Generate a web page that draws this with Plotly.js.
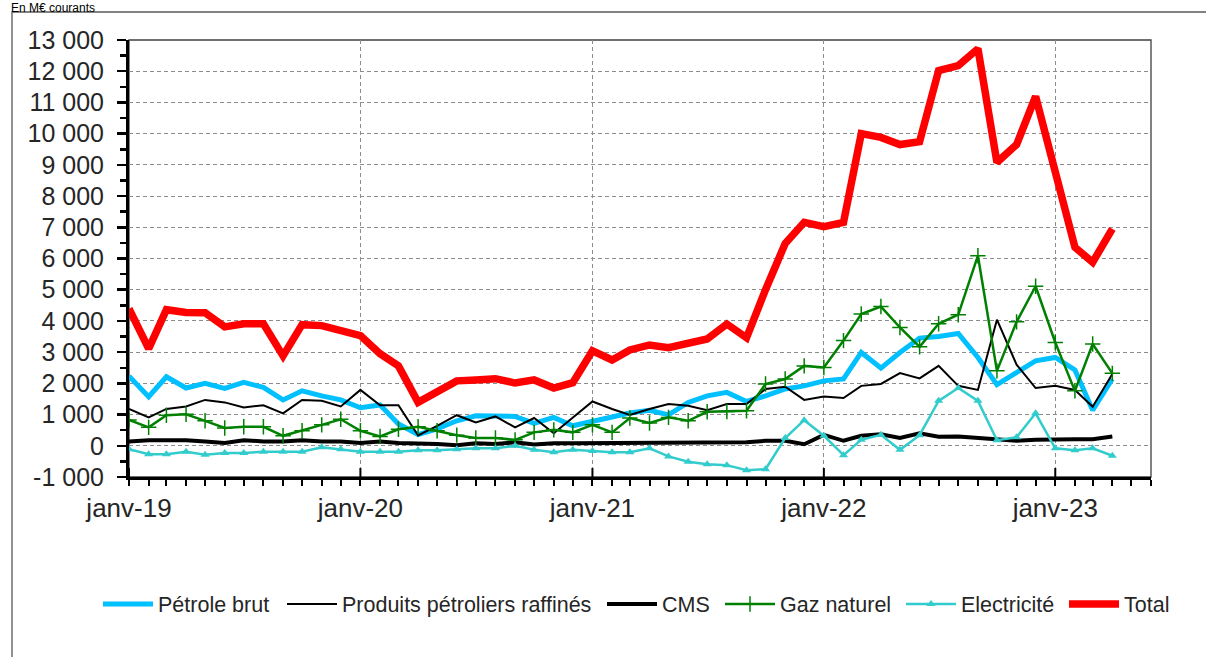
<!DOCTYPE html>
<html>
<head>
<meta charset="utf-8">
<script src="https://cdn.plot.ly/plotly-3.0.1.min.js"></script>
<style>html,body{margin:0;padding:0;background:#fff;}#chart{width:1206px;height:657px;}</style>
</head>
<body>
<div id="chart"></div>
<script>
const months = [
 "2019-01-01","2019-02-01","2019-03-01","2019-04-01","2019-05-01","2019-06-01","2019-07-01","2019-08-01","2019-09-01","2019-10-01","2019-11-01","2019-12-01",
 "2020-01-01","2020-02-01","2020-03-01","2020-04-01","2020-05-01","2020-06-01","2020-07-01","2020-08-01","2020-09-01","2020-10-01","2020-11-01","2020-12-01",
 "2021-01-01","2021-02-01","2021-03-01","2021-04-01","2021-05-01","2021-06-01","2021-07-01","2021-08-01","2021-09-01","2021-10-01","2021-11-01","2021-12-01",
 "2022-01-01","2022-02-01","2022-03-01","2022-04-01","2022-05-01","2022-06-01","2022-07-01","2022-08-01","2022-09-01","2022-10-01","2022-11-01","2022-12-01",
 "2023-01-01","2023-02-01","2023-03-01","2023-04-01"
];
const petroleBrut = [2230,1570,2210,1850,2000,1840,2030,1870,1470,1760,1600,1470,
 1220,1310,700,360,540,800,960,940,940,720,910,640,
 780,910,1050,1140,990,1390,1600,1710,1420,1600,1820,1920,
 2080,2140,2990,2490,2990,3450,3500,3600,2830,1960,2350,2720,
 2830,2430,1140,2140];
const produitsRaffines = [1180,910,1180,1260,1470,1390,1230,1300,1040,1470,1440,1260,
 1790,1300,1300,330,640,980,750,940,590,890,400,910,
 1420,1180,990,1180,1340,1280,1140,1340,1340,1820,1890,1470,
 1580,1530,1920,1980,2330,2160,2560,1920,1790,4040,2600,1850,
 1920,1790,1250,2300];
const cms = [140,180,180,180,140,90,180,140,140,180,140,140,
 90,140,90,90,60,20,80,60,110,40,80,80,
 80,80,110,110,80,110,80,110,110,160,160,50,
 350,160,320,370,250,400,290,300,250,210,160,190,
 210,210,210,300];
const gazNaturel = [830,590,980,1010,800,570,610,610,320,480,670,850,
 480,300,530,610,480,340,250,250,190,430,510,430,
 670,430,890,730,910,800,1090,1100,1120,1980,2140,2560,
 2510,3370,4220,4460,3790,3170,3910,4200,6090,2400,3970,5110,
 3310,1760,3260,2320];
const electricite = [-110,-270,-270,-190,-290,-230,-230,-190,-190,-190,-50,-110,
 -190,-190,-190,-140,-140,-110,-80,-80,0,-130,-210,-130,
 -170,-210,-210,-80,-340,-510,-590,-620,-780,-750,250,820,
 320,-300,190,350,-130,340,1440,1850,1440,180,270,1040,
 -80,-140,-80,-320];
const total = [4390,3110,4360,4270,4260,3810,3910,3910,2880,3880,3850,3690,
 3530,2950,2560,1390,1710,2080,2110,2150,2010,2110,1850,2020,
 3040,2750,3070,3230,3140,3280,3420,3900,3460,5000,6480,7160,
 7020,7160,10000,9880,9650,9740,12020,12180,12720,9080,9650,11190,
 8700,6360,5880,6950];

const yTickVals = [-1000,0,1000,2000,3000,4000,5000,6000,7000,8000,9000,10000,11000,12000,13000];
const yTickText = ["-1 000","0","1 000","2 000","3 000","4 000","5 000","6 000","7 000","8 000","9 000","10 000","11 000","12 000","13 000"];
const xTickVals = ["2019-01-01","2020-01-01","2021-01-01","2022-01-01","2023-01-01"];
const xTickText = ["janv-19","janv-20","janv-21","janv-22","janv-23"];

const PL=129, PR=1151, PT=40, PB=477, W=1206, H=657;
const pw = PR-PL, ph = PB-PT;
const px2x = p => (p-PL)/pw;
const px2y = p => 1-(p-PT)/ph;

const traces = [
 {name:"Pétrole brut", legend:"legend", x:months, y:petroleBrut, mode:"lines", line:{color:"#00C0FF", width:5}},
 {name:"Produits pétroliers raffinés", legend:"legend2", x:months, y:produitsRaffines, mode:"lines", line:{color:"#000000", width:2}},
 {name:"CMS", legend:"legend3", x:months, y:cms, mode:"lines", line:{color:"#000000", width:4}},
 {name:"Gaz naturel", legend:"legend4", x:months, y:gazNaturel, mode:"lines+markers", line:{color:"#008000", width:2.5},
  marker:{symbol:"cross-thin-open", size:11, color:"#008000", line:{color:"#008000", width:1.5}}},
 {name:"Electricité", legend:"legend5", x:months, y:electricite, mode:"lines+markers", line:{color:"#33CCCC", width:2.5},
  marker:{symbol:"triangle-up", size:8, color:"#33CCCC"}},
 {name:"Total", legend:"legend6", x:months, y:total, mode:"lines", line:{color:"#FF0000", width:7.5}}
];

const legendStarts = [103, 287, 607, 725, 906, 1069];
function mkLegend(p){
 return {orientation:"h", x:px2x(p-5), xanchor:"left", y:px2y(604), yanchor:"middle",
  font:{size:21.5, color:"#262626"}, bgcolor:"rgba(0,0,0,0)", itemwidth:50};
}

const shapes = [
 {type:"rect", xref:"paper", yref:"paper", x0:px2x(12), x1:px2x(1212), y0:px2y(12), y1:px2y(662), line:{color:"#595959", width:1.3}, layer:"below"},
 {type:"rect", xref:"paper", yref:"paper", x0:0, x1:1, y0:0, y1:1, line:{color:"#404040", width:1.3}, layer:"below"}
];
xTickVals.forEach(v => shapes.push({type:"line", xref:"x", yref:"paper", x0:v, x1:v, y0:0, y1:9/ph, line:{color:"#000", width:2}}));

const layout = {
 width:W, height:H,
 margin:{l:PL, r:W-PR, t:PT, b:H-PB},
 paper_bgcolor:"#fff", plot_bgcolor:"#fff",
 font:{family:"Liberation Sans, Arial, sans-serif", color:"#262626"},
 showlegend:true,
 legend:mkLegend(legendStarts[0]),
 legend2:mkLegend(legendStarts[1]),
 legend3:mkLegend(legendStarts[2]),
 legend4:mkLegend(legendStarts[3]),
 legend5:mkLegend(legendStarts[4]),
 legend6:mkLegend(legendStarts[5]),
 xaxis:{type:"date", range:["2019-01-01","2023-06-01"], tickvals:xTickVals, ticktext:xTickText,
  ticks:"outside", ticklen:6, tickwidth:2, tickcolor:"#000",
  showgrid:true, gridcolor:"#8c8c8c", griddash:"4px,3px", gridwidth:1,
  showline:true, linecolor:"#000", linewidth:3, zeroline:false,
  tickfont:{size:26, color:"#262626"},
  minor:{dtick:"M1", ticks:"outside", ticklen:6, tickwidth:2, tickcolor:"#000", showgrid:false}},
 yaxis:{range:[-1000,13000], tickvals:yTickVals, ticktext:yTickText,
  ticks:"outside", ticklen:9, tickwidth:2.5, tickcolor:"#000", ticklabelstandoff:8,
  showgrid:true, gridcolor:"#8c8c8c", griddash:"4px,3px", gridwidth:1,
  showline:true, linecolor:"#000", linewidth:3, zeroline:false,
  tickfont:{size:25, color:"#262626"},
  minor:{tickvals:[-500,500,1500,2500,3500,4500,5500,6500,7500,8500,9500,10500,11500,12500], ticks:"outside", ticklen:6, tickwidth:2.5, tickcolor:"#000", showgrid:false}},
 shapes:shapes,
 annotations:[{text:"En M€ courants", xref:"paper", yref:"paper", x:px2x(10), xanchor:"left", y:px2y(0), yanchor:"top", showarrow:false, borderpad:0, font:{size:12, color:"#000"}}]
};

Plotly.newPlot("chart", traces, layout, {displayModeBar:false, staticPlot:true});
</script>
</body>
</html>
